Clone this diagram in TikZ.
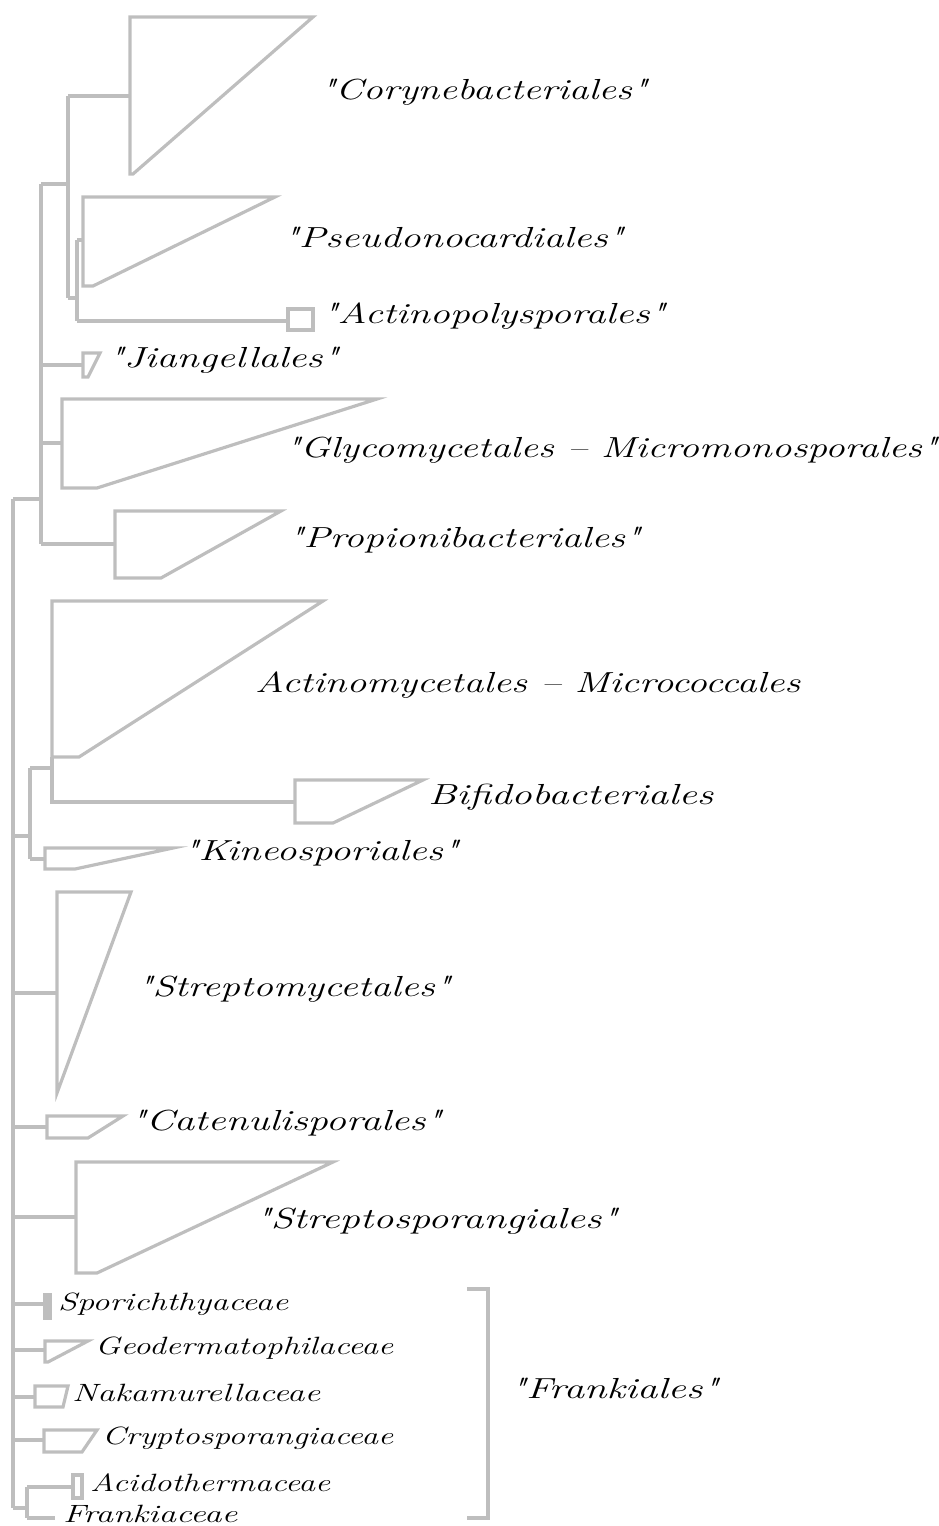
\documentclass[tikz,border=0pt]{standalone}
\usepackage{graphicx}
\definecolor{branch}{RGB}{190,190,190}
\tikzset{
  tree/.style={draw=branch, line width=3.2pt, line join=miter},
  order/.style={anchor=west, inner sep=0pt, font=\fontsize{29}{32}\selectfont},
  family/.style={anchor=west, inner sep=0pt, font=\fontsize{25}{28}\selectfont},
}
% label stretched to a given width, height kept
\newcommand{\lbl}[2]{\resizebox{#1pt}{\height}{\itshape #2}}
\newcommand{\q}{\textquotedbl}
% collapsed clade: left x, top y, bottom y, tip x, stub x
\newcommand{\clade}[6][]{%
  \draw[tree,#1] (#2,#3) -- (#5,#3) -- (#6,#4) -- (#2,#4) -- cycle;}
\begin{document}
\begin{tikzpicture}[x=1pt, y=-1pt]
  \useasboundingbox (0,0) rectangle (939,1526);

  % upper group
  \draw[tree] (13,499) -- (41,499);
  \draw[tree] (41,184) -- (41,544);
  \draw[tree] (41,184) -- (68,184);
  \draw[tree] (68,96) -- (68,298);
  \draw[tree] (68,96) -- (130,96);
  \draw[tree] (68,298) -- (77,298);
  \draw[tree] (77,240) -- (77,321);
  \draw[tree] (77,240) -- (83,240);
  \draw[tree] (77,321) -- (288,321);
  \draw[tree] (41,365) -- (83,365);
  \draw[tree] (41,443) -- (62,443);
  \draw[tree] (41,544) -- (115,544);
  \clade{130}{17}{174}{313}{133}
  \clade{83}{197}{286}{275}{93}
  \clade{288}{309}{330}{313}{313}
  \clade{83}{353}{377}{100}{88}
  \clade{62}{399}{488}{377}{97}
  \clade{115}{511}{578}{281}{161}

  % middle group
  \draw[tree] (13,499) -- (13,1508);
  \draw[tree] (13,836) -- (30,836);
  \draw[tree] (30,768) -- (30,859);
  \draw[tree] (30,768) -- (52,768);
  \draw[tree] (52,757) -- (52,802) -- (295,802);
  \draw[tree] (30,859) -- (45,859);
  \clade{52}{601}{757}{323}{79}
  \clade{295}{780}{823}{423}{333}
  \clade{45}{848}{869}{173}{75}

  \draw[tree] (13,993) -- (57,993);
  \draw[tree] (13,1127) -- (47,1127);
  \draw[tree] (13,1217) -- (76,1217);
  \clade{57}{892}{1093}{131}{57}
  \clade{47}{1116}{1138}{123}{88}
  \clade{76}{1162}{1273}{333}{97}

  % Frankiales
  \draw[tree] (13,1304) -- (45,1304);
  \draw[tree] (13,1350) -- (45,1350);
  \draw[tree] (13,1397) -- (35,1397);
  \draw[tree] (13,1440) -- (44,1440);
  \draw[tree] (13,1508) -- (27,1508);
  \draw[tree] (27,1487) -- (27,1518);
  \draw[tree] (27,1487) -- (73,1487);
  \draw[tree] (27,1518) -- (55,1518);
  \clade[fill=branch]{45}{1295}{1318}{50}{50}
  \clade{45}{1341}{1362}{88}{48}
  \clade{35}{1386}{1407}{68}{63}
  \clade{44}{1430}{1452}{97}{82}
  \clade{73}{1475}{1498}{82}{82}
  \draw[tree] (467,1289) -- (488,1289) -- (488,1518) -- (467,1518);

  % labels
  \node[order] (cory) at (320,92) {\lbl{327}{\q Corynebacteriales\q}};
  \node[order] (pseudo) at (283,237) {\lbl{340}{\q Pseudonocardiales\q}};
  \node[order] (actpoly) at (322,316) {\lbl{343}{\q Actinopolysporales\q}};
  \node[order] (jiang) at (108,360) {\lbl{230}{\q Jiangellales\q}};
  \node[order] (glyco) at (285,450) {\lbl{652}{\q Glycomycetales -- Micromonosporales\q}};
  \node[order] (propi) at (288,540) {\lbl{352}{\q Propionibacteriales\q}};
  \node[order] (actmic) at (255,685) {\lbl{545}{Actinomycetales -- Micrococcales}};
  \node[order] (bifido) at (428,797) {\lbl{285}{Bifidobacteriales}};
  \node[order] (kineo) at (183,853) {\lbl{275}{\q Kineosporiales\q}};
  \node[order] (strmyc) at (137,989) {\lbl{313}{\q Streptomycetales\q}};
  \node[order] (caten) at (130,1123) {\lbl{311}{\q Catenulisporales\q}};
  \node[order] (strspo) at (255,1221) {\lbl{362}{\q Streptosporangiales\q}};
  \node[family] (spori) at (58,1304) {\lbl{230}{Sporichthyaceae}};
  \node[family] (geoder) at (95,1348) {\lbl{298}{Geodermatophilaceae}};
  \node[family] (nakam) at (72,1393) {\lbl{248}{Nakamurellaceae}};
  \node[family] (crypto) at (102,1438) {\lbl{291}{Cryptosporangiaceae}};
  \node[family] (acido) at (90,1483) {\lbl{240}{Acidothermaceae}};
  \node[family] (franki) at (63,1514) {\lbl{174}{Frankiaceae}};
  \node[order] (frankia) at (510,1388) {\lbl{208}{\q Frankiales\q}};
\end{tikzpicture}
\end{document}
